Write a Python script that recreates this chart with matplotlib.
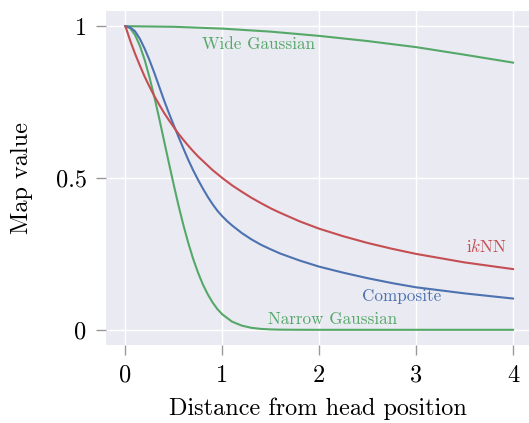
import matplotlib
matplotlib.use("Agg")
import matplotlib.pyplot as plt

# x positions (distance from head position)
x_main = [0.0, 0.05, 0.1, 0.15, 0.2, 0.25, 0.3, 0.35, 0.4, 0.45, 0.5, 0.55, 0.6,
          0.65, 0.7, 0.75, 0.8, 0.85, 0.9, 0.95, 1.0, 1.05, 1.1, 1.2, 1.3, 1.4,
          1.5, 1.6, 1.8, 2.0, 2.25, 2.5, 2.75, 3.0, 3.5, 4.0]

iknn = [1.0, 0.952, 0.909, 0.870, 0.833, 0.8, 0.769, 0.741, 0.714, 0.690, 0.667,
        0.645, 0.625, 0.606, 0.588, 0.571, 0.556, 0.541, 0.526, 0.513, 0.5,
        0.488, 0.476, 0.455, 0.435, 0.417, 0.4, 0.385, 0.357, 0.333, 0.308,
        0.286, 0.267, 0.25, 0.222, 0.2]

composite = [1.0, 0.996, 0.983, 0.958, 0.925, 0.887, 0.845, 0.800, 0.755, 0.713,
             0.673, 0.634, 0.596, 0.559, 0.525, 0.494, 0.465, 0.438, 0.4135, 0.392,
             0.374, 0.358, 0.344, 0.319, 0.298, 0.280, 0.265, 0.251, 0.228, 0.208,
             0.188, 0.17, 0.154, 0.14, 0.12, 0.103]

x_narrow = [0.0, 0.05, 0.1, 0.15, 0.2, 0.25, 0.3, 0.35, 0.4, 0.45, 0.5, 0.55, 0.6,
            0.65, 0.7, 0.75, 0.8, 0.85, 0.9, 0.95, 1.0, 1.1, 1.2, 1.3, 1.4, 1.5,
            1.6, 1.8, 2.0, 3.0, 4.0]
narrow = [1.0, 0.993, 0.971, 0.935, 0.888, 0.83, 0.765, 0.695, 0.621, 0.548,
          0.476, 0.407, 0.343, 0.285, 0.233, 0.188, 0.149, 0.117, 0.09, 0.068,
          0.051, 0.027, 0.014, 0.0066, 0.003, 0.0013, 0.0005, 0.0001, 0.0, 0.0, 0.0]

x_wide = [0.0, 0.5, 1.0, 1.5, 2.0, 2.5, 3.0, 3.5, 4.0]
wide = [1.0, 0.998, 0.992, 0.982, 0.968, 0.951, 0.931, 0.906, 0.88]

x_ticks = [0, 1, 2, 3, 4]
y_ticks = [0, 0.5, 1]
y_tick_labels = ["0", "0.5", "1"]

BLUE = "#4C72B0"
GREEN = "#55A868"
RED = "#C44E52"

plt.rcParams["font.family"] = ["cmr10", "DejaVu Serif"]
plt.rcParams["mathtext.fontset"] = "cm"
plt.rcParams["axes.formatter.use_mathtext"] = True

fig = plt.figure(figsize=(5.29, 4.23), dpi=100)
ax = fig.add_axes([0.2004, 0.1844, 0.7996, 0.7896])
ax.set_facecolor("#EAEAF2")
for s in ax.spines.values():
    s.set_visible(False)
ax.grid(True, color="white", linewidth=1.0)
ax.set_axisbelow(True)

lw = 1.5
ax.plot(x_wide, wide, color=GREEN, lw=lw)
ax.plot(x_narrow, narrow, color=GREEN, lw=lw)
ax.plot(x_main, composite, color=BLUE, lw=lw)
ax.plot(x_main, iknn, color=RED, lw=lw)

ax.set_xlim(-0.2, 4.165)
ax.set_ylim(-0.05, 1.05)
ax.set_xticks(x_ticks)
ax.set_xticklabels([str(t) for t in x_ticks])
ax.set_yticks(y_ticks)
ax.set_yticklabels(y_tick_labels)
ax.tick_params(axis="both", which="major", length=7, width=1.0, color="#999999",
               labelsize=17.5, pad=7)

ax.set_xlabel("Distance from head position", fontsize=17.5, labelpad=8)
ax.set_ylabel("Map value", fontsize=17.5, labelpad=16)

tfs = 12.3
ax.text(1.37, 0.94, "Wide Gaussian", color=GREEN, fontsize=tfs, ha="center", va="center")
ax.text(3.93, 0.273, r"i$k$NN", color=RED, fontsize=tfs, ha="right", va="center")
ax.text(2.85, 0.109, "Composite", color=BLUE, fontsize=tfs, ha="center", va="center")
ax.text(2.14, 0.036, "Narrow Gaussian", color=GREEN, fontsize=tfs, ha="center", va="center")

fig.savefig("out.png", dpi=100)
